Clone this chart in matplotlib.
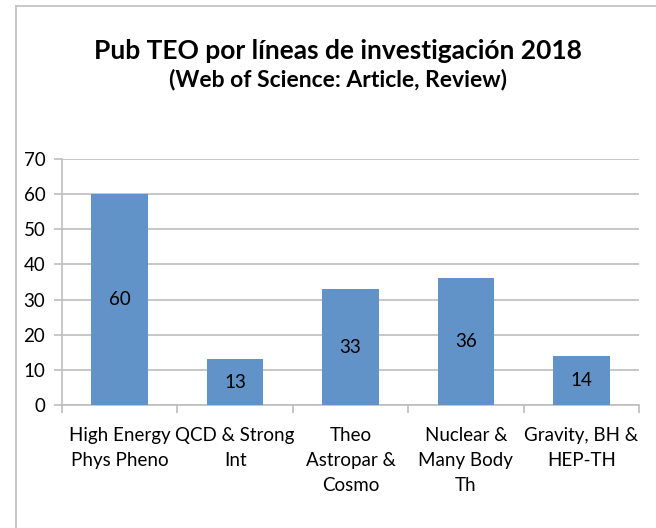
import numpy as np
import matplotlib.pyplot as plt
from matplotlib.lines import Line2D

categories = ["High Energy\nPhys Pheno", "QCD & Strong\nInt", "Theo\nAstropar &\nCosmo",
              "Nuclear &\nMany Body\nTh", "Gravity, BH &\nHEP-TH"]
values = [60, 13, 33, 36, 14]
yticks = [0, 10, 20, 30, 40, 50, 60, 70]

plt.rcParams['font.family'] = ['Lato', 'DejaVu Sans']

fig = plt.figure(figsize=(6.56, 5.28), dpi=100)
ax = fig.add_axes([62/656, 1-405/528, (639-62)/656, (405-159)/528])

x = np.arange(len(categories))
bars = ax.bar(x, values, width=0.49, color='#6193C8', zorder=3)
for xi, v in zip(x, values):
    ax.text(xi, v/2, str(v), ha='center', va='center', fontsize=13.5, color='black', zorder=4)

ax.set_xlim(-0.5, len(categories)-0.5)
ax.set_ylim(0, 70)
ax.set_yticks(yticks)
ax.yaxis.grid(True, color='#BEBEBE', linewidth=1.2, zorder=0)
ax.tick_params(axis='y', length=6, color='#BEBEBE', width=1.2, labelsize=13.5, pad=6)

ax.set_xticks(x)
ax.set_xticklabels(categories, fontsize=13.5, linespacing=1.55)
ax.tick_params(axis='x', length=0, pad=16)
ax.set_xticks(np.arange(len(categories)+1) - 0.5, minor=True)
ax.tick_params(axis='x', which='minor', length=6, color='#BEBEBE', width=1.2)

for s in ['top', 'right']:
    ax.spines[s].set_visible(False)
for s in ['left', 'bottom']:
    ax.spines[s].set_color('#BEBEBE')
    ax.spines[s].set_linewidth(1.2)

fig.text(338/656, 1-51/528, "Pub TEO por líneas de investigación 2018", ha='center', va='center',
         fontsize=19, fontweight='bold')
fig.text(338/656, 1-80/528, "(Web of Science: Article, Review)", ha='center', va='center',
         fontsize=16.5, fontweight='bold')

# outer chart border (left and top visible)
fig.add_artist(Line2D([16/656, 16/656], [0, 1-6/528], transform=fig.transFigure, color='#BFBFBF', lw=1.2))
fig.add_artist(Line2D([16/656, 1], [1-6/528, 1-6/528], transform=fig.transFigure, color='#BFBFBF', lw=1.2))

fig.savefig("out.png", dpi=100)
